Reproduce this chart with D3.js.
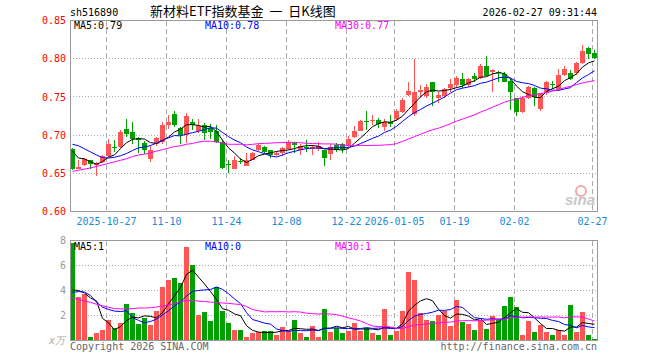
<!DOCTYPE html>
<html>
<head>
<meta charset="utf-8">
<script src="https://cdn.jsdelivr.net/npm/d3@7"></script>
<style>
body { margin: 0; background: #fff; }
text { font-family: "DejaVu Sans Mono", monospace; font-size: 10px; }
.title { font-family: "Noto Sans CJK SC", sans-serif; font-size: 13px; white-space: pre; }
line, rect { shape-rendering: crispEdges; }
</style>
</head>
<body>
<div id="chart"></div>
<script>
// daily bars, 2025-10-17 .. 2026-02-27
var dates = [
  "2025-10-17","2025-10-20","2025-10-21","2025-10-22","2025-10-23","2025-10-24",
  "2025-10-27","2025-10-28","2025-10-29","2025-10-30","2025-10-31",
  "2025-11-03","2025-11-04","2025-11-05","2025-11-06","2025-11-07",
  "2025-11-10","2025-11-11","2025-11-12","2025-11-13","2025-11-14",
  "2025-11-17","2025-11-18","2025-11-19","2025-11-20","2025-11-21",
  "2025-11-24","2025-11-25","2025-11-26","2025-11-27","2025-11-28",
  "2025-12-01","2025-12-02","2025-12-03","2025-12-04","2025-12-05",
  "2025-12-08","2025-12-09","2025-12-10","2025-12-11","2025-12-12",
  "2025-12-15","2025-12-16","2025-12-17","2025-12-18","2025-12-19",
  "2025-12-22","2025-12-23","2025-12-24","2025-12-25","2025-12-26",
  "2025-12-29","2025-12-30","2025-12-31",
  "2026-01-05","2026-01-06","2026-01-07","2026-01-08","2026-01-09",
  "2026-01-12","2026-01-13","2026-01-14","2026-01-15","2026-01-16",
  "2026-01-19","2026-01-20","2026-01-21","2026-01-22","2026-01-23",
  "2026-01-26","2026-01-27","2026-01-28","2026-01-29","2026-01-30",
  "2026-02-02","2026-02-03","2026-02-04","2026-02-05","2026-02-06",
  "2026-02-09","2026-02-10","2026-02-11","2026-02-12","2026-02-13",
  "2026-02-24","2026-02-25","2026-02-26","2026-02-27"
];

var opens = [0.682,0.656,0.661,0.668,0.661,0.665,0.673,0.684,0.684,0.708,
  0.704,0.696,0.690,0.669,0.688,0.691,0.713,0.727,0.709,0.700,
  0.717,0.705,0.713,0.709,0.706,0.691,0.6625,0.656,0.666,0.660,
  0.668,0.680,0.684,0.680,0.674,0.676,0.682,0.690,0.681,0.684,
  0.682,0.682,0.680,0.675,0.687,0.688,0.687,0.697,0.706,0.718,
  0.718,0.720,0.710,0.717,0.721,0.730,0.752,0.727,0.756,0.751,
  0.769,0.748,0.751,0.761,0.765,0.774,0.765,0.778,0.775,0.791,
  0.783,0.782,0.780,0.771,0.748,0.730,0.749,0.761,0.734,0.7545,
  0.7665,0.760,0.779,0.781,0.781,0.794,0.8135,0.807];
var highs = [0.683,0.667,0.670,0.668,0.665,0.674,0.695,0.693,0.707,0.721,
  0.717,0.697,0.692,0.686,0.697,0.717,0.726,0.731,0.710,0.729,
  0.721,0.721,0.716,0.714,0.713,0.693,0.667,0.672,0.670,0.677,
  0.678,0.688,0.686,0.680,0.679,0.685,0.694,0.691,0.688,0.693,
  0.687,0.691,0.680,0.688,0.690,0.690,0.699,0.712,0.720,0.731,
  0.726,0.722,0.721,0.726,0.734,0.748,0.770,0.800,0.765,0.767,
  0.769,0.756,0.762,0.773,0.778,0.781,0.775,0.781,0.793,0.804,
  0.786,0.784,0.782,0.773,0.749,0.751,0.764,0.763,0.755,0.771,
  0.7707,0.786,0.790,0.785,0.796,0.8175,0.815,0.811];
var lows = [0.654,0.655,0.659,0.656,0.646,0.663,0.671,0.678,0.683,0.698,
  0.689,0.676,0.675,0.665,0.686,0.689,0.708,0.710,0.688,0.690,
  0.707,0.703,0.694,0.695,0.690,0.656,0.650,0.655,0.662,0.659,
  0.667,0.679,0.675,0.670,0.672,0.673,0.680,0.676,0.674,0.678,
  0.674,0.679,0.660,0.668,0.678,0.677,0.685,0.696,0.705,0.707,
  0.713,0.709,0.706,0.710,0.718,0.729,0.751,0.725,0.749,0.748,
  0.738,0.742,0.749,0.757,0.762,0.762,0.763,0.769,0.774,0.777,
  0.756,0.770,0.769,0.733,0.725,0.729,0.747,0.738,0.732,0.753,
  0.7606,0.758,0.777,0.772,0.779,0.793,0.800,0.800];
var closes = [0.656,0.658,0.669,0.662,0.664,0.673,0.688,0.683,0.704,0.702,
  0.695,0.693,0.680,0.681,0.696,0.713,0.717,0.713,0.700,0.725,
  0.713,0.712,0.703,0.704,0.691,0.657,0.662,0.668,0.6655,0.668,
  0.677,0.687,0.678,0.674,0.677,0.683,0.691,0.687,0.686,0.6835,
  0.6845,0.686,0.670,0.684,0.681,0.682,0.695,0.705,0.718,0.717,
  0.720,0.715,0.717,0.715,0.731,0.746,0.758,0.757,0.759,0.763,
  0.757,0.7525,0.760,0.7665,0.775,0.766,0.774,0.774,0.790,0.778,
  0.785,0.781,0.769,0.756,0.730,0.748,0.763,0.750,0.7545,0.770,
  0.766,0.779,0.787,0.774,0.795,0.810,0.8065,0.8005];
// volume, x万
var volumes = [7.79,3.52,3.73,0.24,0.56,0.83,1.68,1.04,1.44,2.96,
  2.24,1.36,1.84,1.28,2.35,4.32,4.88,5.04,4.64,7.52,
  6.08,2.08,2.32,1.60,4.32,2.40,1.44,0.88,0.88,0.32,
  0.56,0.69,0.80,0.80,0.48,1.12,0.80,1.68,0.64,0.24,
  1.20,0.24,2.56,0.72,1.00,0.56,0.80,1.44,0.80,1.00,
  0.56,0.48,2.56,0.48,0.80,2.40,5.52,4.88,2.24,1.68,
  1.60,2.08,2.40,1.20,3.28,1.52,1.36,0.88,1.68,0.96,
  2.00,1.76,2.80,3.52,2.72,0.48,1.60,0.72,1.28,0.72,
  0.48,0.88,0.40,2.88,0.72,2.32,0.48,0.08];

// moving-average values before enough bars exist (history is off-chart)
var ma5Lead = [0.679,0.670,0.669,0.665];
var ma10Lead = [0.688,0.686,0.682,0.678,0.674,0.6705,0.670,0.671,0.673];
var ma30Lead = [0.6525,0.654,0.6555,0.657,0.659,0.661,0.663,0.665,0.667,0.669,
  0.672,0.674,0.675,0.677,0.679,0.681,0.683,0.685,0.686,0.688,
  0.689,0.691,0.692,0.692,0.691,0.690,0.688,0.688,0.688];
var vma5Lead = [4.05,4.0,3.8,3.4];
var vma10Lead = [3.84,3.92,3.87,3.6,3.07,2.67,2.48,2.35,2.32];
var vma30Lead = [3.38,3.3,3.15,3.05,2.9,2.78,2.66,2.55,2.53,2.53,
  2.55,2.6,2.6,2.62,2.68,2.75,2.85,2.95,3.1,3.2,
  3.2,3.15,3.12,3.07,3.05,3.0,2.97,2.92,2.88];

var priceTicks = [0.60, 0.65, 0.70, 0.75, 0.80, 0.85];
var volTicks = [2, 4, 6, 8];
var tickDates = ["2025-10-27","2025-11-10","2025-11-24","2025-12-08","2025-12-22",
  "2026-01-05","2026-01-19","2026-02-02","2026-02-27"];
var tickLabels = ["2025-10-27","11-10","11-24","12-08","12-22","2026-01-05","01-19","02-02","02-27"];
var maNames = ["MA5", "MA10", "MA30"];
var priceMaText = ["0.79", "0.78", "0.77"];
var volMaText = ["1", "0", "1"];

var svg = d3.select("#chart").append("svg").attr("width", 660).attr("height", 360),
    left = 70, right = 598,
    pTop = 20.5, pBot = 211.5,
    vTop = 240.5, vBot = 340.5;

var red = "#ff5555", green = "#00a000", gridCol = "#aaaaaa";
var maColors = ["#000000", "#0000ff", "#ff00ff"];

var x = d3.scaleBand().domain(dates).range([left, right]);
var y = d3.scaleLinear().domain([0.60, 0.85]).range([pBot, pTop]);
var vy = d3.scaleLinear().domain([0, 8]).range([vBot, vTop]);

var bars = dates.map(function(d, i) {
  return {date: d, o: opens[i], h: highs[i], l: lows[i], c: closes[i], v: volumes[i]};
});

function movingAvg(vals, n, lead) {
  return vals.map(function(v, i) {
    if (i < n - 1) return lead[i];
    return d3.mean(vals.slice(i - n + 1, i + 1));
  });
}

var priceMA = [movingAvg(closes, 5, ma5Lead), movingAvg(closes, 10, ma10Lead), movingAvg(closes, 30, ma30Lead)];
var volMA = [movingAvg(volumes, 5, vma5Lead), movingAvg(volumes, 10, vma10Lead), movingAvg(volumes, 30, vma30Lead)];

// grid
var grid = svg.append("g");
[[pTop, pBot], [vTop, vBot]].forEach(function(r) {
  grid.selectAll(null)
    .data(tickDates)
    .enter().append("line")
      .attr("x1", function(d) { return x(d) + 0.5; })
      .attr("x2", function(d) { return x(d) + 0.5; })
      .attr("y1", r[0]).attr("y2", r[1])
      .attr("stroke", gridCol)
      .attr("stroke-dasharray", "5,3");
});
grid.selectAll(null)
  .data(priceTicks.slice(1, -1))
  .enter().append("line")
    .attr("x1", left).attr("x2", right)
    .attr("y1", function(d) { return Math.round(y(d) - 0.5) + 0.5; })
    .attr("y2", function(d) { return Math.round(y(d) - 0.5) + 0.5; })
    .attr("stroke", gridCol)
    .attr("stroke-dasharray", "1,2");
grid.selectAll(null)
  .data(volTicks.slice(0, -1))
  .enter().append("line")
    .attr("x1", left).attr("x2", right)
    .attr("y1", function(d) { return Math.round(vy(d) - 0.5) + 0.5; })
    .attr("y2", function(d) { return Math.round(vy(d) - 0.5) + 0.5; })
    .attr("stroke", gridCol)
    .attr("stroke-dasharray", "1,2");

// sina watermark
var wm = svg.append("g");
wm.append("circle").attr("cx", 581).attr("cy", 191).attr("r", 5)
  .attr("fill", "none").attr("stroke", "#f2a9a9").attr("stroke-width", 2);
wm.append("text").attr("x", 565).attr("y", 205)
  .style("font-family", "Liberation Sans, sans-serif").style("font-size", "15px")
  .style("font-weight", "bold").style("font-style", "italic")
  .attr("fill", "#c8c8c8").text("sina");

// candles
function col(d) { return d.c >= d.o ? red : green; }

var candle = svg.append("g").selectAll("g")
  .data(bars)
  .enter().append("g");

candle.append("rect")
  .attr("x", function(d) { return x(d.date) + 2; })
  .attr("width", 1)
  .attr("y", function(d) { return Math.round(y(d.h)); })
  .attr("height", function(d) { return Math.max(1, Math.round(y(d.l)) - Math.round(y(d.h))); })
  .attr("fill", col);

candle.append("rect")
  .attr("x", function(d) { return x(d.date); })
  .attr("width", 5)
  .attr("y", function(d) { return Math.round(y(Math.max(d.o, d.c))); })
  .attr("height", function(d) { return Math.max(1, Math.round(y(Math.min(d.o, d.c))) - Math.round(y(Math.max(d.o, d.c)))); })
  .attr("fill", col);

// volume bars
svg.append("g").selectAll("rect")
  .data(bars)
  .enter().append("rect")
    .attr("x", function(d) { return x(d.date); })
    .attr("width", 5)
    .attr("y", function(d) { return Math.round(vy(d.v)); })
    .attr("height", function(d) { return vBot - 0.5 - Math.round(vy(d.v)); })
    .attr("fill", col);

// moving averages
priceMA.forEach(function(ma, k) {
  svg.append("path")
    .datum(ma)
    .attr("fill", "none")
    .attr("stroke", maColors[k])
    .attr("d", d3.line()
      .x(function(d, i) { return x(dates[i]) + 2.5; })
      .y(function(d) { return y(d); }));
});
volMA.forEach(function(ma, k) {
  svg.append("path")
    .datum(ma)
    .attr("fill", "none")
    .attr("stroke", maColors[k])
    .attr("d", d3.line()
      .x(function(d, i) { return x(dates[i]) + 2.5; })
      .y(function(d) { return vy(d); }));
});

// frames
[[pTop, pBot], [vTop, vBot]].forEach(function(r) {
  svg.append("rect")
    .attr("x", left + 0.5).attr("y", r[0])
    .attr("width", right - left - 1).attr("height", r[1] - r[0])
    .attr("fill", "none").attr("stroke", "#999");
});

// axes
svg.append("g")
    .attr("transform", "translate(" + (left - 4) + ",0)")
    .call(d3.axisLeft(y).tickValues(priceTicks).tickSize(0).tickPadding(0)
      .tickFormat(function(d) { return d.toFixed(2); }))
    .call(function(g) { g.select(".domain").remove(); })
    .selectAll("text")
      .attr("fill", "#ff0000")
      .style("font-family", "DejaVu Sans Mono, monospace")
      .style("font-size", "10px");

svg.append("g")
    .attr("transform", "translate(" + (left - 4) + ",0)")
    .call(d3.axisLeft(vy).tickValues(volTicks).tickSize(0).tickPadding(0))
    .call(function(g) { g.select(".domain").remove(); })
    .selectAll("text")
      .attr("fill", "#999")
      .style("font-family", "DejaVu Sans Mono, monospace")
      .style("font-size", "10px");

svg.append("g").selectAll("text")
  .data(tickDates)
  .enter().append("text")
    .attr("x", function(d) { return x(d) + 0.5; })
    .attr("y", 225)
    .attr("text-anchor", "middle")
    .attr("fill", "#1a8ad6")
    .text(function(d, i) { return tickLabels[i]; });

// legends
var legX = [74, 205, 335];
svg.append("g").selectAll("text")
  .data(maNames)
  .enter().append("text")
    .attr("x", function(d, i) { return legX[i]; })
    .attr("y", 29)
    .attr("fill", function(d, i) { return maColors[i]; })
    .text(function(d, i) { return d + ":" + priceMaText[i]; });
svg.append("g").selectAll("text")
  .data(maNames)
  .enter().append("text")
    .attr("x", function(d, i) { return legX[i]; })
    .attr("y", 250)
    .attr("fill", function(d, i) { return maColors[i]; })
    .text(function(d, i) { return d + ":" + volMaText[i]; });

// header and footer
svg.append("text").attr("x", 70).attr("y", 16).text("sh516890");
svg.append("text").attr("class", "title").attr("x", 150).attr("y", 16)
  .text("新材料ETF指数基金  一  日K线图");
svg.append("text").attr("x", 597).attr("y", 16).attr("text-anchor", "end")
  .text("2026-02-27 09:31:44");
svg.append("text").attr("x", 49).attr("y", 344).attr("fill", "#aaa")
  .style("font-style", "italic").text("x万");
svg.append("text").attr("x", 70).attr("y", 350).attr("fill", "#666")
  .text("Copyright 2026 SINA.COM");
svg.append("text").attr("x", 597).attr("y", 350).attr("text-anchor", "end").attr("fill", "#666")
  .text("http://finance.sina.com.cn");
</script>
</body>
</html>
